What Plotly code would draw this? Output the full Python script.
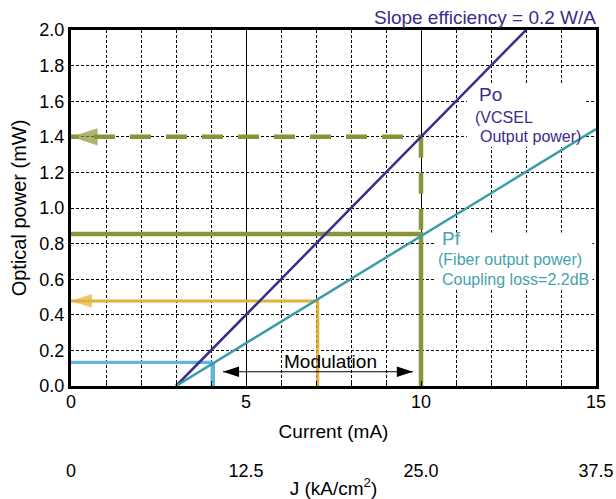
import plotly.graph_objects as go

FONT = "Liberation Sans, Arial, Helvetica, sans-serif"
PURPLE = "#3b2b8c"
TEAL = "#3c9ca6"
TEAL_TEXT = "#47a2ac"
OLIVE = "#8a9338"
GOLD = "#e2b237"
SKY = "#5fb4e2"

# ---- data ----
po_current = [3.0, 13.0]          # VCSEL output power line (mA)
po_power = [0.0, 2.0]             # mW
pf_current = [3.0, 15.0]          # fibre output power line (mA)
pf_power = [0.0, 1.444]           # mW

max_current = 10.0                # operating points
max_po = 1.4
max_pf = 0.854
mid_current = 7.05
mid_pf = 0.478
min_current = 4.05
min_pf = 0.133

mod_current = [4.34, 9.77]        # modulation range arrow
mod_level = 0.08

x_ticks = [0, 5, 10, 15]
y_ticks = [0.0, 0.2, 0.4, 0.6, 0.8, 1.0, 1.2, 1.4, 1.6, 1.8, 2.0]
j_ticks = [0, 12.5, 25.0, 37.5]
j_labels = ["0", "12.5", "25.0", "37.5"]

fig = go.Figure()

# olive: dashed Po projection
fig.add_trace(go.Scatter(x=[max_current, max_current], y=[max_po, max_pf], mode="lines",
                         line=dict(color=OLIVE, width=4.5, dash="21px,15px")))
fig.add_trace(go.Scatter(x=[max_current, 0], y=[max_po, max_po], mode="lines",
                         line=dict(color=OLIVE, width=4.5, dash="3px,15px,18px,0px")))
# olive: solid Pf projection
fig.add_trace(go.Scatter(x=[0, max_current, max_current], y=[max_pf, max_pf, 0], mode="lines",
                         line=dict(color=OLIVE, width=4.5)))
# gold
fig.add_trace(go.Scatter(x=[0, mid_current, mid_current], y=[mid_pf, mid_pf, 0], mode="lines",
                         line=dict(color=GOLD, width=3)))
# sky blue
fig.add_trace(go.Scatter(x=[0, min_current], y=[min_pf, min_pf], mode="lines",
                         line=dict(color=SKY, width=3.2)))
fig.add_trace(go.Scatter(x=[min_current, min_current], y=[min_pf, 0], mode="lines",
                         line=dict(color=SKY, width=4.5)))
# Po and Pf lines
fig.add_trace(go.Scatter(x=po_current, y=po_power, mode="lines",
                         line=dict(color=PURPLE, width=2.5)))
fig.add_trace(go.Scatter(x=pf_current, y=pf_power, mode="lines",
                         line=dict(color=TEAL, width=2.5)))
# arrow heads at the power axis
fig.add_trace(go.Scatter(x=[0, 0], y=[max_po, mid_pf], mode="markers",
                         marker=dict(symbol="arrow", angle=-90, size=[28, 22],
                                     color=[OLIVE, GOLD], line=dict(width=0))))
# modulation double arrow
fig.add_trace(go.Scatter(x=mod_current, y=[mod_level, mod_level], mode="lines+markers",
                         line=dict(color="black", width=1.2),
                         marker=dict(symbol="arrow", angle=[-90, 90], size=17, color="black",
                                     line=dict(width=0))))
# current density axis carrier (invisible)
fig.add_trace(go.Scatter(x=j_ticks, y=[None] * len(j_ticks), xaxis="x2", yaxis="y",
                         mode="markers", marker=dict(opacity=0), hoverinfo="skip"))

annotations = [
    dict(x=15, y=1.028, yref="paper", xanchor="right", xshift=2,
         text="Slope efficiency = 0.2 W/A", font=dict(size=19, color=PURPLE)),
    dict(x=11.6, y=1.635, text="Po", font=dict(size=19, color=PURPLE)),
    dict(x=11.49, y=1.506, text="(VCSEL", font=dict(size=16, color=PURPLE)),
    dict(x=11.63, y=1.404, text="Output power)", font=dict(size=16, color=PURPLE)),
    dict(x=10.54, y=0.831, text="Pf", font=dict(size=19, color=TEAL_TEXT)),
    dict(x=10.43, y=0.708, text="(Fiber output power)", font=dict(size=16, color=TEAL_TEXT)),
    dict(x=10.54, y=0.596, text="Coupling loss=2.2dB", font=dict(size=16, color=TEAL_TEXT)),
    dict(x=7.4, y=0.135, xanchor="center", text="Modulation", font=dict(size=19, color="black")),
]
for a in annotations:
    a.setdefault("xref", "x")
    a.setdefault("yref", "y")
    a.setdefault("xanchor", "left")
    a.setdefault("yanchor", "middle")
    a["showarrow"] = False
    a["font"]["family"] = FONT

# white backing panels behind the label blocks (above grid, below traces)
label_panels = [
    dict(x0=11.31, x1=14.69, y0=1.343, y1=1.702),
    dict(x0=10.40, x1=14.90, y0=0.539, y1=0.862),
]
shapes = [dict(type="rect", xref="x", yref="y", layer="between", fillcolor="white",
               line=dict(width=0), **p) for p in label_panels]

fig.update_layout(
    width=616, height=499, autosize=False,
    margin=dict(l=71, r=20, t=30, b=10, autoexpand=False),
    paper_bgcolor="white", plot_bgcolor="white",
    showlegend=False,
    font=dict(family=FONT, size=18, color="black"),
    annotations=annotations,
    shapes=shapes,
    xaxis=dict(
        range=[0, 15], tickvals=x_ticks, anchor="y", automargin=False,
        showline=True, linewidth=3, linecolor="black", mirror=True,
        showgrid=True, gridcolor="black", gridwidth=1,
        zeroline=False,
        ticks="inside", ticklen=5, tickcolor="black", tickwidth=1,
        ticklabelstandoff=-3,
        minor=dict(dtick=1, showgrid=True, gridcolor="black", gridwidth=1, griddash="3px,2px",
                   ticks="inside", ticklen=5, tickcolor="black"),
        tickfont=dict(size=18),
        title=dict(text="Current (mA)", font=dict(size=19)),
    ),
    xaxis2=dict(
        range=[0, 37.5], overlaying="x", anchor="free", position=0.0675, side="bottom",
        automargin=False,
        tickvals=j_ticks, ticktext=j_labels, showline=False, showgrid=False, zeroline=False,
        ticks="", tickfont=dict(size=18),
        title=dict(text="J (kA/cm<sup>2</sup>)", font=dict(size=19)),
    ),
    yaxis=dict(
        range=[0, 2.0], tickvals=y_ticks, tickformat=".1f", domain=[0.2244, 1],
        automargin=False,
        showline=True, linewidth=3, linecolor="black", mirror=True,
        showgrid=True, gridcolor="black", gridwidth=1, griddash="3px,2px",
        zeroline=False, ticks="", tickfont=dict(size=18),
        title=dict(text="Optical power (mW)", font=dict(size=20), standoff=8),
    ),
)

fig.write_html("out.html")
